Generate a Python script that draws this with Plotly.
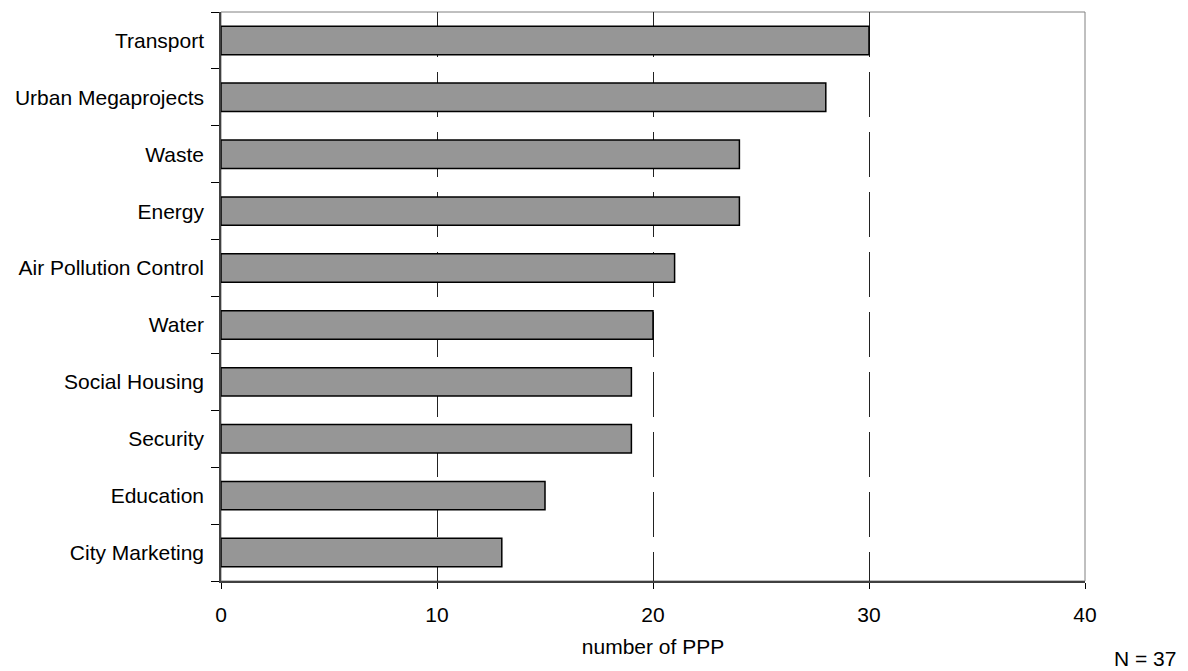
import plotly.graph_objects as go

categories = ["Transport", "Urban Megaprojects", "Waste", "Energy", "Air Pollution Control",
              "Water", "Social Housing", "Security", "Education", "City Marketing"]
values = [30, 28, 24, 24, 21, 20, 19, 19, 15, 13]
x_ticks = [0, 10, 20, 30, 40]

fig = go.Figure()
fig.add_trace(go.Bar(
    x=values, y=categories, orientation="h",
    marker=dict(color="#969696", line=dict(color="black", width=1.5)),
    width=0.5,
))

# grey frame on the top and right side of the plot area
fig.add_shape(type="rect", xref="paper", yref="paper", x0=0, x1=1, y0=0, y1=1,
              line=dict(color="#808080", width=1), layer="below")

fig.update_layout(
    width=1180, height=663,
    margin=dict(l=213, r=103, t=4, b=90),
    plot_bgcolor="white", paper_bgcolor="white",
    font=dict(family="Liberation Sans, Arial, sans-serif", size=21, color="black"),
    showlegend=False,
)
fig.update_xaxes(
    range=[0, 40], tickvals=x_ticks, showgrid=True, gridcolor="#222222", gridwidth=1,
    griddash="45px,15px", zeroline=False,
    showline=True, linecolor="#404040", linewidth=1.5,
    ticks="outside", ticklen=6, tickcolor="black", ticklabelstandoff=8,
    title=dict(text="number of PPP", standoff=14, font=dict(size=21)),
)
fig.update_yaxes(
    categoryorder="array", categoryarray=categories[::-1],
    showline=True, linecolor="#404040", linewidth=1.5,
    ticks="outside", tickson="boundaries", ticklen=8, tickcolor="black",
    showgrid=False, ticklabelstandoff=11,
)
fig.add_annotation(text="N = 37", xref="paper", yref="paper", x=1.0694, y=-0.137,
                   xanchor="center", yanchor="middle", showarrow=False, font=dict(size=21))

fig.write_html("out.html")
